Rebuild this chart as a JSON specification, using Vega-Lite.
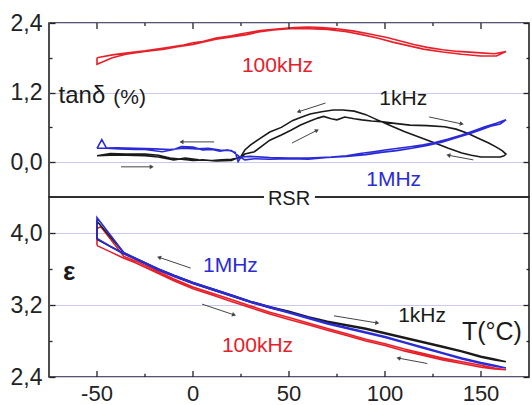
{
  "$schema": "https://vega.github.io/schema/vega-lite/v6.json",
  "background": "white",
  "padding": {"left": 9, "top": 11, "right": 1, "bottom": 30},
  "spacing": 0,
  "bounds": "flush",
  "resolve": {"scale": {"x": "independent", "y": "independent", "color": "independent"}, "axis": {"x": "independent", "y": "independent"}},
  "config": {
    "font": "Liberation Sans",
    "view": {"stroke": "#222", "strokeWidth": 1.6},
    "axis": {"domain": false, "labelFont": "Liberation Sans", "labelFontSize": 23, "labelColor": "#222", "tickColor": "#222", "tickWidth": 1.3, "gridColor": "#c9c9f2", "gridWidth": 1, "title": null}
  },
  "datasets": {
    "tan": [
      {"f":"100kHz","i":1,"T":-50,"v":1.80},{"f":"100kHz","i":2,"T":-42,"v":1.85},{"f":"100kHz","i":3,"T":-35,"v":1.88},{"f":"100kHz","i":4,"T":-25,"v":1.92},{"f":"100kHz","i":5,"T":-15,"v":1.97},{"f":"100kHz","i":6,"T":-5,"v":2.02},{"f":"100kHz","i":7,"T":0,"v":2.06},{"f":"100kHz","i":8,"T":5,"v":2.08},{"f":"100kHz","i":9,"T":12,"v":2.14},{"f":"100kHz","i":10,"T":20,"v":2.18},{"f":"100kHz","i":11,"T":26,"v":2.22},{"f":"100kHz","i":12,"T":35,"v":2.27},{"f":"100kHz","i":13,"T":45,"v":2.30},{"f":"100kHz","i":14,"T":53,"v":2.32},{"f":"100kHz","i":15,"T":60,"v":2.33},{"f":"100kHz","i":16,"T":67,"v":2.32},{"f":"100kHz","i":17,"T":75,"v":2.30},{"f":"100kHz","i":18,"T":84,"v":2.26},{"f":"100kHz","i":19,"T":92,"v":2.21},{"f":"100kHz","i":20,"T":101,"v":2.15},{"f":"100kHz","i":21,"T":108,"v":2.09},{"f":"100kHz","i":22,"T":115,"v":2.03},{"f":"100kHz","i":23,"T":122,"v":1.98},{"f":"100kHz","i":24,"T":130,"v":1.94},{"f":"100kHz","i":25,"T":138,"v":1.91},{"f":"100kHz","i":26,"T":148,"v":1.89},{"f":"100kHz","i":27,"T":157,"v":1.87},{"f":"100kHz","i":28,"T":163,"v":1.91},{"f":"100kHz","i":29,"T":158,"v":1.83},{"f":"100kHz","i":30,"T":150,"v":1.83},{"f":"100kHz","i":31,"T":140,"v":1.86},{"f":"100kHz","i":32,"T":130,"v":1.90},{"f":"100kHz","i":33,"T":120,"v":1.95},{"f":"100kHz","i":34,"T":112,"v":2.01},{"f":"100kHz","i":35,"T":104,"v":2.07},{"f":"100kHz","i":36,"T":96,"v":2.14},{"f":"100kHz","i":37,"T":88,"v":2.20},{"f":"100kHz","i":38,"T":80,"v":2.25},{"f":"100kHz","i":39,"T":70,"v":2.29},{"f":"100kHz","i":40,"T":60,"v":2.30},{"f":"100kHz","i":41,"T":50,"v":2.30},{"f":"100kHz","i":42,"T":42,"v":2.28},{"f":"100kHz","i":43,"T":35,"v":2.25},{"f":"100kHz","i":44,"T":28,"v":2.20},{"f":"100kHz","i":45,"T":20,"v":2.16},{"f":"100kHz","i":46,"T":12,"v":2.12},{"f":"100kHz","i":47,"T":5,"v":2.07},{"f":"100kHz","i":48,"T":0,"v":2.03},{"f":"100kHz","i":49,"T":-8,"v":1.99},{"f":"100kHz","i":50,"T":-15,"v":1.95},{"f":"100kHz","i":51,"T":-25,"v":1.91},{"f":"100kHz","i":52,"T":-35,"v":1.86},{"f":"100kHz","i":53,"T":-42,"v":1.80},{"f":"100kHz","i":54,"T":-50,"v":1.69},{"f":"100kHz","i":55,"T":-50,"v":1.80},
      {"f":"1kHz","i":1,"T":-50,"v":0.11},{"f":"1kHz","i":2,"T":-43,"v":0.12},{"f":"1kHz","i":3,"T":-35,"v":0.12},{"f":"1kHz","i":4,"T":-25,"v":0.11},{"f":"1kHz","i":5,"T":-18,"v":0.09},{"f":"1kHz","i":6,"T":-10,"v":0.04},{"f":"1kHz","i":7,"T":-4,"v":0.07},{"f":"1kHz","i":8,"T":3,"v":0.04},{"f":"1kHz","i":9,"T":10,"v":0.03},{"f":"1kHz","i":10,"T":15,"v":0.04},{"f":"1kHz","i":11,"T":20,"v":0.05},{"f":"1kHz","i":12,"T":25,"v":0.08},{"f":"1kHz","i":13,"T":27,"v":0.14},{"f":"1kHz","i":14,"T":32,"v":0.18},{"f":"1kHz","i":15,"T":40,"v":0.38},{"f":"1kHz","i":16,"T":46,"v":0.47},{"f":"1kHz","i":17,"T":51,"v":0.55},{"f":"1kHz","i":18,"T":56,"v":0.64},{"f":"1kHz","i":19,"T":61,"v":0.71},{"f":"1kHz","i":20,"T":65,"v":0.76},{"f":"1kHz","i":21,"T":68,"v":0.79},{"f":"1kHz","i":22,"T":72,"v":0.75},{"f":"1kHz","i":23,"T":75,"v":0.73},{"f":"1kHz","i":24,"T":79,"v":0.78},{"f":"1kHz","i":25,"T":84,"v":0.75},{"f":"1kHz","i":26,"T":88,"v":0.73},{"f":"1kHz","i":27,"T":93,"v":0.71},{"f":"1kHz","i":28,"T":98,"v":0.70},{"f":"1kHz","i":29,"T":105,"v":0.67},{"f":"1kHz","i":30,"T":113,"v":0.64},{"f":"1kHz","i":31,"T":122,"v":0.63},{"f":"1kHz","i":32,"T":131,"v":0.61},{"f":"1kHz","i":33,"T":137,"v":0.57},{"f":"1kHz","i":34,"T":143,"v":0.50},{"f":"1kHz","i":35,"T":148,"v":0.42},{"f":"1kHz","i":36,"T":154,"v":0.33},{"f":"1kHz","i":37,"T":158,"v":0.26},{"f":"1kHz","i":38,"T":161,"v":0.20},{"f":"1kHz","i":39,"T":163,"v":0.14},{"f":"1kHz","i":40,"T":162,"v":0.11},{"f":"1kHz","i":41,"T":160,"v":0.09},{"f":"1kHz","i":42,"T":150,"v":0.09},{"f":"1kHz","i":43,"T":145,"v":0.12},{"f":"1kHz","i":44,"T":140,"v":0.16},{"f":"1kHz","i":45,"T":133,"v":0.24},{"f":"1kHz","i":46,"T":126,"v":0.33},{"f":"1kHz","i":47,"T":118,"v":0.43},{"f":"1kHz","i":48,"T":110,"v":0.53},{"f":"1kHz","i":49,"T":103,"v":0.63},{"f":"1kHz","i":50,"T":96,"v":0.73},{"f":"1kHz","i":51,"T":90,"v":0.82},{"f":"1kHz","i":52,"T":84,"v":0.88},{"f":"1kHz","i":53,"T":78,"v":0.90},{"f":"1kHz","i":54,"T":73,"v":0.90},{"f":"1kHz","i":55,"T":67,"v":0.87},{"f":"1kHz","i":56,"T":61,"v":0.83},{"f":"1kHz","i":57,"T":56,"v":0.77},{"f":"1kHz","i":58,"T":52,"v":0.72},{"f":"1kHz","i":59,"T":46,"v":0.60},{"f":"1kHz","i":60,"T":40,"v":0.52},{"f":"1kHz","i":61,"T":35,"v":0.41},{"f":"1kHz","i":62,"T":30,"v":0.30},{"f":"1kHz","i":63,"T":27,"v":0.21},{"f":"1kHz","i":64,"T":25,"v":0.10},{"f":"1kHz","i":65,"T":20,"v":0.03},{"f":"1kHz","i":66,"T":12,"v":0.02},{"f":"1kHz","i":67,"T":5,"v":0.04},{"f":"1kHz","i":68,"T":0,"v":0.03},{"f":"1kHz","i":69,"T":-6,"v":0.05},{"f":"1kHz","i":70,"T":-12,"v":0.07},{"f":"1kHz","i":71,"T":-18,"v":0.12},{"f":"1kHz","i":72,"T":-25,"v":0.14},{"f":"1kHz","i":73,"T":-35,"v":0.14},{"f":"1kHz","i":74,"T":-43,"v":0.15},{"f":"1kHz","i":75,"T":-50,"v":0.11},
      {"f":"1MHz","i":1,"T":-50,"v":0.24},{"f":"1MHz","i":2,"T":-47.5,"v":0.39},{"f":"1MHz","i":3,"T":-45,"v":0.24},{"f":"1MHz","i":4,"T":-38,"v":0.23},{"f":"1MHz","i":5,"T":-30,"v":0.22},{"f":"1MHz","i":6,"T":-25,"v":0.22},{"f":"1MHz","i":7,"T":-16,"v":0.18},{"f":"1MHz","i":8,"T":-10,"v":0.22},{"f":"1MHz","i":9,"T":-6,"v":0.27},{"f":"1MHz","i":10,"T":0,"v":0.26},{"f":"1MHz","i":11,"T":5,"v":0.21},{"f":"1MHz","i":12,"T":10,"v":0.22},{"f":"1MHz","i":13,"T":14,"v":0.19},{"f":"1MHz","i":14,"T":18,"v":0.21},{"f":"1MHz","i":15,"T":22,"v":0.17},{"f":"1MHz","i":16,"T":23.5,"v":0.01},{"f":"1MHz","i":17,"T":25,"v":0.09},{"f":"1MHz","i":18,"T":30,"v":0.10},{"f":"1MHz","i":19,"T":40,"v":0.08},{"f":"1MHz","i":20,"T":50,"v":0.07},{"f":"1MHz","i":21,"T":60,"v":0.07},{"f":"1MHz","i":22,"T":72,"v":0.09},{"f":"1MHz","i":23,"T":80,"v":0.11},{"f":"1MHz","i":24,"T":87,"v":0.15},{"f":"1MHz","i":25,"T":94,"v":0.18},{"f":"1MHz","i":26,"T":100,"v":0.21},{"f":"1MHz","i":27,"T":107,"v":0.24},{"f":"1MHz","i":28,"T":114,"v":0.27},{"f":"1MHz","i":29,"T":120,"v":0.30},{"f":"1MHz","i":30,"T":126,"v":0.34},{"f":"1MHz","i":31,"T":133,"v":0.40},{"f":"1MHz","i":32,"T":140,"v":0.47},{"f":"1MHz","i":33,"T":146,"v":0.54},{"f":"1MHz","i":34,"T":152,"v":0.61},{"f":"1MHz","i":35,"T":158,"v":0.67},{"f":"1MHz","i":36,"T":163,"v":0.73},{"f":"1MHz","i":37,"T":160,"v":0.66},{"f":"1MHz","i":38,"T":155,"v":0.62},{"f":"1MHz","i":39,"T":150,"v":0.56},{"f":"1MHz","i":40,"T":144,"v":0.49},{"f":"1MHz","i":41,"T":138,"v":0.43},{"f":"1MHz","i":42,"T":130,"v":0.35},{"f":"1MHz","i":43,"T":122,"v":0.29},{"f":"1MHz","i":44,"T":114,"v":0.24},{"f":"1MHz","i":45,"T":106,"v":0.20},{"f":"1MHz","i":46,"T":98,"v":0.17},{"f":"1MHz","i":47,"T":90,"v":0.13},{"f":"1MHz","i":48,"T":80,"v":0.10},{"f":"1MHz","i":49,"T":70,"v":0.08},{"f":"1MHz","i":50,"T":60,"v":0.05},{"f":"1MHz","i":51,"T":50,"v":0.06},{"f":"1MHz","i":52,"T":40,"v":0.05},{"f":"1MHz","i":53,"T":32,"v":0.06},{"f":"1MHz","i":54,"T":27,"v":0.04},{"f":"1MHz","i":55,"T":24,"v":0.10},{"f":"1MHz","i":56,"T":20,"v":0.20},{"f":"1MHz","i":57,"T":14,"v":0.21},{"f":"1MHz","i":58,"T":8,"v":0.24},{"f":"1MHz","i":59,"T":2,"v":0.23},{"f":"1MHz","i":60,"T":-5,"v":0.24},{"f":"1MHz","i":61,"T":-12,"v":0.22},{"f":"1MHz","i":62,"T":-20,"v":0.23},{"f":"1MHz","i":63,"T":-30,"v":0.24},{"f":"1MHz","i":64,"T":-40,"v":0.25},{"f":"1MHz","i":65,"T":-50,"v":0.24}
    ],
    "eps": [
      {"f":"100kHz","i":1,"T":-50,"v":3.86},{"f":"100kHz","i":2,"T":-43,"v":3.79},{"f":"100kHz","i":3,"T":-36,"v":3.72},{"f":"100kHz","i":4,"T":-30,"v":3.67},{"f":"100kHz","i":5,"T":-25,"v":3.62},{"f":"100kHz","i":6,"T":-18,"v":3.55},{"f":"100kHz","i":7,"T":-10,"v":3.47},{"f":"100kHz","i":8,"T":0,"v":3.38},{"f":"100kHz","i":9,"T":10,"v":3.31},{"f":"100kHz","i":10,"T":20,"v":3.24},{"f":"100kHz","i":11,"T":30,"v":3.17},{"f":"100kHz","i":12,"T":40,"v":3.10},{"f":"100kHz","i":13,"T":50,"v":3.04},{"f":"100kHz","i":14,"T":60,"v":2.98},{"f":"100kHz","i":15,"T":70,"v":2.92},{"f":"100kHz","i":16,"T":80,"v":2.86},{"f":"100kHz","i":17,"T":90,"v":2.80},{"f":"100kHz","i":18,"T":100,"v":2.75},{"f":"100kHz","i":19,"T":110,"v":2.69},{"f":"100kHz","i":20,"T":120,"v":2.64},{"f":"100kHz","i":21,"T":130,"v":2.59},{"f":"100kHz","i":22,"T":140,"v":2.55},{"f":"100kHz","i":23,"T":150,"v":2.51},{"f":"100kHz","i":24,"T":157,"v":2.49},{"f":"100kHz","i":25,"T":163,"v":2.48},{"f":"100kHz","i":26,"T":157,"v":2.50},{"f":"100kHz","i":27,"T":150,"v":2.53},{"f":"100kHz","i":28,"T":140,"v":2.57},{"f":"100kHz","i":29,"T":130,"v":2.61},{"f":"100kHz","i":30,"T":120,"v":2.66},{"f":"100kHz","i":31,"T":110,"v":2.71},{"f":"100kHz","i":32,"T":100,"v":2.77},{"f":"100kHz","i":33,"T":90,"v":2.82},{"f":"100kHz","i":34,"T":80,"v":2.88},{"f":"100kHz","i":35,"T":70,"v":2.94},{"f":"100kHz","i":36,"T":60,"v":3.00},{"f":"100kHz","i":37,"T":50,"v":3.06},{"f":"100kHz","i":38,"T":40,"v":3.12},{"f":"100kHz","i":39,"T":30,"v":3.19},{"f":"100kHz","i":40,"T":20,"v":3.26},{"f":"100kHz","i":41,"T":10,"v":3.33},{"f":"100kHz","i":42,"T":0,"v":3.40},{"f":"100kHz","i":43,"T":-10,"v":3.49},{"f":"100kHz","i":44,"T":-18,"v":3.57},{"f":"100kHz","i":45,"T":-25,"v":3.64},{"f":"100kHz","i":46,"T":-30,"v":3.69},{"f":"100kHz","i":47,"T":-36,"v":3.74},{"f":"100kHz","i":48,"T":-48,"v":4.07},{"f":"100kHz","i":49,"T":-50,"v":4.05},{"f":"100kHz","i":50,"T":-50,"v":3.86},
      {"f":"1kHz","i":1,"T":-50,"v":3.93},{"f":"1kHz","i":2,"T":-43,"v":3.85},{"f":"1kHz","i":3,"T":-36,"v":3.77},{"f":"1kHz","i":4,"T":-30,"v":3.71},{"f":"1kHz","i":5,"T":-25,"v":3.66},{"f":"1kHz","i":6,"T":-18,"v":3.59},{"f":"1kHz","i":7,"T":-10,"v":3.52},{"f":"1kHz","i":8,"T":0,"v":3.44},{"f":"1kHz","i":9,"T":10,"v":3.37},{"f":"1kHz","i":10,"T":20,"v":3.30},{"f":"1kHz","i":11,"T":30,"v":3.23},{"f":"1kHz","i":12,"T":40,"v":3.17},{"f":"1kHz","i":13,"T":50,"v":3.12},{"f":"1kHz","i":14,"T":60,"v":3.06},{"f":"1kHz","i":15,"T":70,"v":3.01},{"f":"1kHz","i":16,"T":80,"v":2.97},{"f":"1kHz","i":17,"T":90,"v":2.93},{"f":"1kHz","i":18,"T":100,"v":2.88},{"f":"1kHz","i":19,"T":110,"v":2.83},{"f":"1kHz","i":20,"T":120,"v":2.78},{"f":"1kHz","i":21,"T":130,"v":2.73},{"f":"1kHz","i":22,"T":140,"v":2.68},{"f":"1kHz","i":23,"T":150,"v":2.62},{"f":"1kHz","i":24,"T":157,"v":2.59},{"f":"1kHz","i":25,"T":163,"v":2.57},{"f":"1kHz","i":26,"T":157,"v":2.60},{"f":"1kHz","i":27,"T":150,"v":2.63},{"f":"1kHz","i":28,"T":140,"v":2.69},{"f":"1kHz","i":29,"T":130,"v":2.74},{"f":"1kHz","i":30,"T":120,"v":2.79},{"f":"1kHz","i":31,"T":110,"v":2.84},{"f":"1kHz","i":32,"T":100,"v":2.89},{"f":"1kHz","i":33,"T":90,"v":2.94},{"f":"1kHz","i":34,"T":80,"v":2.98},{"f":"1kHz","i":35,"T":70,"v":3.02},{"f":"1kHz","i":36,"T":60,"v":3.07},{"f":"1kHz","i":37,"T":50,"v":3.13},{"f":"1kHz","i":38,"T":40,"v":3.18},{"f":"1kHz","i":39,"T":30,"v":3.24},{"f":"1kHz","i":40,"T":20,"v":3.31},{"f":"1kHz","i":41,"T":10,"v":3.38},{"f":"1kHz","i":42,"T":0,"v":3.45},{"f":"1kHz","i":43,"T":-10,"v":3.53},{"f":"1kHz","i":44,"T":-18,"v":3.60},{"f":"1kHz","i":45,"T":-25,"v":3.67},{"f":"1kHz","i":46,"T":-30,"v":3.72},{"f":"1kHz","i":47,"T":-36,"v":3.78},{"f":"1kHz","i":48,"T":-50,"v":4.13},{"f":"1kHz","i":49,"T":-50,"v":3.93},
      {"f":"1MHz","i":1,"T":-50,"v":3.94},{"f":"1MHz","i":2,"T":-43,"v":3.85},{"f":"1MHz","i":3,"T":-36,"v":3.77},{"f":"1MHz","i":4,"T":-30,"v":3.71},{"f":"1MHz","i":5,"T":-25,"v":3.66},{"f":"1MHz","i":6,"T":-18,"v":3.59},{"f":"1MHz","i":7,"T":-10,"v":3.52},{"f":"1MHz","i":8,"T":0,"v":3.44},{"f":"1MHz","i":9,"T":10,"v":3.37},{"f":"1MHz","i":10,"T":20,"v":3.30},{"f":"1MHz","i":11,"T":30,"v":3.23},{"f":"1MHz","i":12,"T":40,"v":3.17},{"f":"1MHz","i":13,"T":50,"v":3.11},{"f":"1MHz","i":14,"T":60,"v":3.05},{"f":"1MHz","i":15,"T":70,"v":2.99},{"f":"1MHz","i":16,"T":80,"v":2.94},{"f":"1MHz","i":17,"T":90,"v":2.89},{"f":"1MHz","i":18,"T":100,"v":2.84},{"f":"1MHz","i":19,"T":110,"v":2.78},{"f":"1MHz","i":20,"T":120,"v":2.72},{"f":"1MHz","i":21,"T":130,"v":2.66},{"f":"1MHz","i":22,"T":140,"v":2.60},{"f":"1MHz","i":23,"T":150,"v":2.55},{"f":"1MHz","i":24,"T":157,"v":2.52},{"f":"1MHz","i":25,"T":163,"v":2.50},{"f":"1MHz","i":26,"T":157,"v":2.53},{"f":"1MHz","i":27,"T":150,"v":2.56},{"f":"1MHz","i":28,"T":140,"v":2.61},{"f":"1MHz","i":29,"T":130,"v":2.67},{"f":"1MHz","i":30,"T":120,"v":2.73},{"f":"1MHz","i":31,"T":110,"v":2.79},{"f":"1MHz","i":32,"T":100,"v":2.85},{"f":"1MHz","i":33,"T":90,"v":2.90},{"f":"1MHz","i":34,"T":80,"v":2.95},{"f":"1MHz","i":35,"T":70,"v":3.00},{"f":"1MHz","i":36,"T":60,"v":3.06},{"f":"1MHz","i":37,"T":50,"v":3.12},{"f":"1MHz","i":38,"T":40,"v":3.18},{"f":"1MHz","i":39,"T":30,"v":3.24},{"f":"1MHz","i":40,"T":20,"v":3.31},{"f":"1MHz","i":41,"T":10,"v":3.38},{"f":"1MHz","i":42,"T":0,"v":3.45},{"f":"1MHz","i":43,"T":-10,"v":3.53},{"f":"1MHz","i":44,"T":-18,"v":3.60},{"f":"1MHz","i":45,"T":-25,"v":3.67},{"f":"1MHz","i":46,"T":-30,"v":3.72},{"f":"1MHz","i":47,"T":-36,"v":3.78},{"f":"1MHz","i":48,"T":-50,"v":4.17},{"f":"1MHz","i":49,"T":-50,"v":3.94}
    ],
    "arrowsTop": [
      {"T":11,"v":0.35,"T2":-6,"v2":0.35,"ang":180},
      {"T":-37.5,"v":-0.08,"T2":-21.5,"v2":-0.08,"ang":0},
      {"T":69,"v":1.02,"T2":55,"v2":0.87,"ang":162},
      {"T":51.5,"v":0.33,"T2":64.6,"v2":0.55,"ang":-27},
      {"T":123,"v":0.78,"T2":140,"v2":0.66,"ang":12},
      {"T":146,"v":0.04,"T2":133,"v2":0.12,"ang":191}
    ],
    "arrowsBottom": [
      {"T":-1.2,"v":3.61,"T2":-17.7,"v2":3.73,"ang":199},
      {"T":4.7,"v":3.21,"T2":21.4,"v2":3.09,"ang":19},
      {"T":73.4,"v":3.08,"T2":96,"v2":3.0,"ang":9},
      {"T":122,"v":2.55,"T2":107,"v2":2.61,"ang":190}
    ],
    "majorT": [{"T": -50, "label": "-50"}, {"T": 0, "label": "0"}, {"T": 50, "label": "50"}, {"T": 100, "label": "100"}, {"T": 150, "label": "150"}],
    "minorT": [{"T": -25}, {"T": 25}, {"T": 75}, {"T": 125}]
  },
  "vconcat": [
    {
      "width": 480,
      "height": 174,
      "layer": [
        {
          "data": {"name": "tan"},
          "mark": {"type": "line", "strokeWidth": 1.6},
          "encoding": {
            "x": {"field": "T", "type": "quantitative", "scale": {"domain": [-75, 175], "nice": false, "zero": false},
              "axis": {"orient": "top", "values": [-50, 0, 50, 100, 150], "labels": false, "ticks": false, "grid": true}},
            "y": {"field": "v", "type": "quantitative", "scale": {"domain": [-0.6, 2.4], "nice": false, "zero": false},
              "axis": {"orient": "left", "values": [0, 0.6, 1.2, 1.8, 2.4], "grid": true, "labelPadding": 13,
                "gridOpacity": {"condition": {"test": "datum.value == 0.6 || datum.value == 1.8", "value": 0}, "value": 1},
                "tickSize": {"condition": {"test": "datum.value == 0.6 || datum.value == 1.8", "value": -3}, "value": -6},
                "labelExpr": "(datum.value == 0.6 || datum.value == 1.8) ? '' : replace(format(datum.value, '.1f'), '.', ',')"}},
            "color": {"field": "f", "type": "nominal", "scale": {"domain": ["100kHz", "1kHz", "1MHz"], "range": ["#e8202a", "#1a1a1a", "#2a2ad8"]}, "legend": null},
            "order": {"field": "i", "type": "quantitative"}
          }
        },
        {
          "data": {"name": "majorT"},
          "mark": {"type": "rule", "color": "#222", "strokeWidth": 1.3},
          "encoding": {
            "x": {"field": "T", "type": "quantitative", "axis": null},
            "y": {"datum": 2.4, "type": "quantitative", "axis": null},
            "y2": {"datum": 2.297}
          }
        },
        {
          "data": {"name": "minorT"},
          "mark": {"type": "rule", "color": "#222", "strokeWidth": 1.3},
          "encoding": {
            "x": {"field": "T", "type": "quantitative", "axis": null},
            "y": {"datum": 2.4, "type": "quantitative", "axis": null},
            "y2": {"datum": 2.348}
          }
        },
        {
          "data": {"name": "arrowsTop"},
          "mark": {"type": "rule", "color": "#444", "strokeWidth": 1},
          "encoding": {
            "x": {"field": "T", "type": "quantitative", "axis": null},
            "y": {"field": "v", "type": "quantitative",
              "axis": {"orient": "right", "values": [0, 0.6, 1.2, 1.8, 2.4], "labels": false, "grid": false,
                "tickSize": {"condition": {"test": "datum.value == 0.6 || datum.value == 1.8", "value": -3}, "value": -6}}},
            "x2": {"field": "T2"},
            "y2": {"field": "v2"}
          }
        },
        {
          "data": {"name": "arrowsTop"},
          "mark": {"type": "point", "shape": "triangle-right", "filled": true, "color": "#444", "size": 22, "opacity": 1},
          "encoding": {
            "x": {"field": "T2", "type": "quantitative", "axis": null},
            "y": {"field": "v2", "type": "quantitative", "axis": null},
            "angle": {"field": "ang", "type": "quantitative", "scale": null}
          }
        },
        {
          "data": {"values": [
            {"text": "100kHz", "f": "100kHz", "T": 44, "v": 1.56},
            {"text": "1kHz", "f": "1kHz", "T": 109.5, "v": 0.99},
            {"text": "1MHz", "f": "1MHz", "T": 104.5, "v": -0.41}
          ]},
          "mark": {"type": "text", "fontSize": 21, "align": "center", "baseline": "alphabetic"},
          "encoding": {
            "x": {"field": "T", "type": "quantitative", "axis": null},
            "y": {"field": "v", "type": "quantitative", "axis": null},
            "text": {"field": "text"},
            "color": {"field": "f", "type": "nominal", "legend": null}
          }
        },
        {
          "data": {"values": [{"text": "tanδ", "T": -70, "v": 1.02}]},
          "mark": {"type": "text", "fontSize": 24, "align": "left", "baseline": "alphabetic", "color": "#1a1a1a"},
          "encoding": {
            "x": {"field": "T", "type": "quantitative", "axis": null},
            "y": {"field": "v", "type": "quantitative", "axis": null},
            "text": {"field": "text"}
          }
        },
        {
          "data": {"values": [{"text": "(%)", "T": -41.5, "v": 1.0}]},
          "mark": {"type": "text", "fontSize": 21, "align": "left", "baseline": "alphabetic", "color": "#1a1a1a"},
          "encoding": {
            "x": {"field": "T", "type": "quantitative", "axis": null},
            "y": {"field": "v", "type": "quantitative", "axis": null},
            "text": {"field": "text"}
          }
        }
      ]
    },
    {
      "width": 480,
      "height": 180,
      "layer": [
        {
          "data": {"name": "eps"},
          "mark": {"type": "line", "strokeWidth": 1.6},
          "encoding": {
            "x": {"field": "T", "type": "quantitative", "scale": {"domain": [-75, 175], "nice": false, "zero": false},
              "axis": {"orient": "bottom", "values": [-50, 0, 50, 100, 150], "grid": true, "ticks": false, "labels": false}},
            "y": {"field": "v", "type": "quantitative", "scale": {"domain": [2.4, 4.4], "nice": false, "zero": false},
              "axis": {"orient": "left", "values": [2.4, 2.8, 3.2, 3.6, 4.0], "grid": true, "labelPadding": 13,
                "gridOpacity": {"condition": {"test": "datum.value == 2.8 || datum.value == 3.6", "value": 0}, "value": 1},
                "tickSize": {"condition": {"test": "datum.value == 2.8 || datum.value == 3.6", "value": -3}, "value": -6},
                "labelExpr": "(datum.value == 2.8 || datum.value == 3.6) ? '' : replace(format(datum.value, '.1f'), '.', ',')"}},
            "color": {"field": "f", "type": "nominal", "scale": {"domain": ["100kHz", "1kHz", "1MHz"], "range": ["#e8202a", "#1a1a1a", "#2a2ad8"]}, "legend": null},
            "order": {"field": "i", "type": "quantitative"}
          }
        },
        {
          "data": {"name": "majorT"},
          "mark": {"type": "rule", "color": "#222", "strokeWidth": 1.3},
          "encoding": {
            "x": {"field": "T", "type": "quantitative", "axis": null},
            "y": {"datum": 2.4, "type": "quantitative", "axis": null},
            "y2": {"datum": 2.467}
          }
        },
        {
          "data": {"name": "minorT"},
          "mark": {"type": "rule", "color": "#222", "strokeWidth": 1.3},
          "encoding": {
            "x": {"field": "T", "type": "quantitative", "axis": null},
            "y": {"datum": 2.4, "type": "quantitative", "axis": null},
            "y2": {"datum": 2.435}
          }
        },
        {
          "data": {"name": "majorT"},
          "mark": {"type": "text", "fontSize": 22, "align": "center", "baseline": "alphabetic", "dy": 24, "color": "#222"},
          "encoding": {
            "x": {"field": "T", "type": "quantitative", "axis": null},
            "y": {"datum": 2.4, "type": "quantitative", "axis": null},
            "text": {"field": "label"}
          }
        },
        {
          "data": {"values": [{"a": 1}]},
          "mark": {"type": "rect", "color": "white", "clip": false},
          "encoding": {
            "x": {"datum": 37, "type": "quantitative", "axis": null},
            "x2": {"datum": 63.5},
            "y": {"datum": 4.36, "type": "quantitative", "axis": null},
            "y2": {"datum": 4.44}
          }
        },
        {
          "data": {"values": [{"text": "RSR", "T": 50, "v": 4.31}]},
          "mark": {"type": "text", "fontSize": 20, "align": "center", "baseline": "alphabetic", "color": "#1a1a1a"},
          "encoding": {
            "x": {"field": "T", "type": "quantitative", "axis": null},
            "y": {"field": "v", "type": "quantitative", "axis": null},
            "text": {"field": "text"}
          }
        },
        {
          "data": {"name": "arrowsBottom"},
          "mark": {"type": "rule", "color": "#444", "strokeWidth": 1},
          "encoding": {
            "x": {"field": "T", "type": "quantitative", "axis": null},
            "y": {"field": "v", "type": "quantitative",
              "axis": {"orient": "right", "values": [2.4, 2.8, 3.2, 3.6, 4.0], "labels": false, "grid": false,
                "tickSize": {"condition": {"test": "datum.value == 2.8 || datum.value == 3.6", "value": -3}, "value": -6}}},
            "x2": {"field": "T2"},
            "y2": {"field": "v2"}
          }
        },
        {
          "data": {"name": "arrowsBottom"},
          "mark": {"type": "point", "shape": "triangle-right", "filled": true, "color": "#444", "size": 22, "opacity": 1},
          "encoding": {
            "x": {"field": "T2", "type": "quantitative", "axis": null},
            "y": {"field": "v2", "type": "quantitative", "axis": null},
            "angle": {"field": "ang", "type": "quantitative", "scale": null}
          }
        },
        {
          "data": {"values": [
            {"text": "1MHz", "f": "1MHz", "T": 19.5, "v": 3.57},
            {"text": "100kHz", "f": "100kHz", "T": 33.6, "v": 2.68},
            {"text": "1kHz", "f": "1kHz", "T": 119.3, "v": 3.01}
          ]},
          "mark": {"type": "text", "fontSize": 21, "align": "center", "baseline": "alphabetic"},
          "encoding": {
            "x": {"field": "T", "type": "quantitative", "axis": null},
            "y": {"field": "v", "type": "quantitative", "axis": null},
            "text": {"field": "text"},
            "color": {"field": "f", "type": "nominal", "legend": null}
          }
        },
        {
          "data": {"values": [{"text": "ε", "T": -64.5, "v": 3.48}]},
          "mark": {"type": "text", "fontSize": 26, "fontWeight": "bold", "align": "center", "baseline": "alphabetic", "color": "#1a1a1a"},
          "encoding": {
            "x": {"field": "T", "type": "quantitative", "axis": null},
            "y": {"field": "v", "type": "quantitative", "axis": null},
            "text": {"field": "text"}
          }
        },
        {
          "data": {"values": [{"text": "T(°C)", "T": 155.7, "v": 2.81}]},
          "mark": {"type": "text", "fontSize": 25, "align": "center", "baseline": "alphabetic", "color": "#1a1a1a"},
          "encoding": {
            "x": {"field": "T", "type": "quantitative", "axis": null},
            "y": {"field": "v", "type": "quantitative", "axis": null},
            "text": {"field": "text"}
          }
        }
      ]
    }
  ]
}
